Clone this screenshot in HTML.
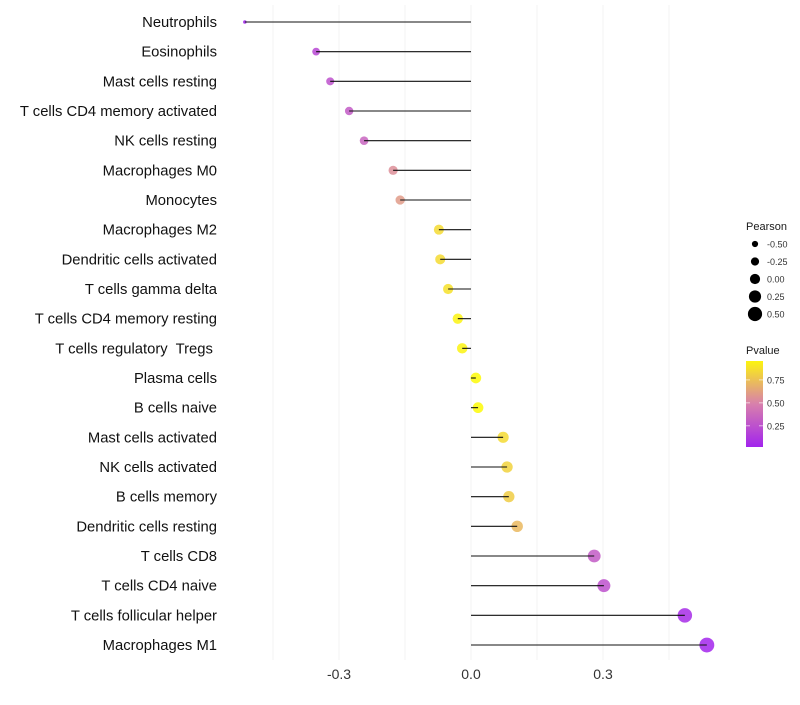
<!DOCTYPE html>
<html><head><meta charset="utf-8"><style>
body{margin:0;background:#fff;font-family:"Liberation Sans",sans-serif}
text{white-space:pre}
</style></head><body>
<svg id="chart" width="800" height="700" xmlns="http://www.w3.org/2000/svg"></svg>
<script>
const categories=["Neutrophils","Eosinophils","Mast cells resting","T cells CD4 memory activated","NK cells resting","Macrophages M0","Monocytes","Macrophages M2","Dendritic cells activated","T cells gamma delta","T cells CD4 memory resting","T cells regulatory  Tregs ","Plasma cells","B cells naive","Mast cells activated","NK cells activated","B cells memory","Dendritic cells resting","T cells CD8","T cells CD4 naive","T cells follicular helper","Macrophages M1"];
const pearson=[-0.514,-0.352,-0.320,-0.277,-0.243,-0.177,-0.161,-0.073,-0.070,-0.052,-0.030,-0.020,0.011,0.016,0.073,0.082,0.086,0.105,0.280,0.302,0.486,0.536];
const pvalue=[0.02,0.2,0.25,0.3,0.35,0.55,0.6,0.85,0.85,0.88,0.95,0.95,0.98,0.98,0.85,0.82,0.8,0.72,0.3,0.25,0.06,0.03];
const xTicks=[-0.3,0,0.3];
const xTickLabels=["-0.3","0.0","0.3"];
const xGrid=[-0.45,-0.3,-0.15,0,0.15,0.3,0.45];
const sizeLegend=[-0.5,-0.25,0,0.25,0.5];
const sizeLegendLabels=["-0.50","-0.25","0.00","0.25","0.50"];
const pTicks=[0.25,0.5,0.75];
const pTickLabels=["0.25","0.50","0.75"];

const NS="http://www.w3.org/2000/svg";
const svg=document.getElementById('chart');
const x=v=>471+v*440;
const y=i=>22+i*29.667;
const r=v=>v<-0.45?1.8:Math.max(1.8,5.3+4*v);
const rl=v=>Math.max(1.5,4.6+4*v);
function lerp(a,b,t){return a.map((c,k)=>Math.round(c+(b[k]-c)*t));}
function col(p){
  const s=[[0,[160,32,240]],[0.5,[217,130,170]],[1,[255,255,0]]];
  let t=Math.max(0,Math.min(1,p));
  let c=t<0.5?lerp(s[0][1],s[1][1],t/0.5):lerp(s[1][1],s[2][1],(t-0.5)/0.5);
  return `rgb(${c[0]},${c[1]},${c[2]})`;
}
function mk(tag,attrs,parent){const e=document.createElementNS(NS,tag);for(const k in attrs)e.setAttribute(k,attrs[k]);(parent||svg).appendChild(e);return e;}

xGrid.forEach(v=>{
  const g=mk('line',{x1:x(v),x2:x(v),y1:5,y2:660,stroke:'#f3f3f3','stroke-width':1});
  
  
});
xTicks.forEach((v,i)=>{
  const t=mk('text',{x:x(v),y:679,'text-anchor':'middle','font-size':14,fill:'#333'});
  t.textContent=xTickLabels[i];
  
  
});
categories.forEach((c,i)=>{
  const t=mk('text',{x:217,y:y(i)+5,'text-anchor':'end','font-size':14.8,fill:'#111'});
  t.textContent=c;
  
  
  const p=mk('circle',{cx:x(pearson[i]),cy:y(i),r:r(pearson[i]),fill:col(pvalue[i]),'fill-opacity':0.85});
  
  
  const l=mk('line',{x1:x(0),x2:x(pearson[i]),y1:y(i),y2:y(i),stroke:'#111','stroke-width':1.1});
  
  
});
const st=mk('text',{x:746,y:230,'font-size':11,fill:'#1a1a1a'});st.textContent='Pearson';


sizeLegend.forEach((v,i)=>{
  const cy=244+i*17.5;
  const c=mk('circle',{cx:755,cy:cy,r:rl(v)+0.5,fill:'#000'});
  
  
  const t=mk('text',{x:767,y:cy+3.5,'font-size':9,fill:'#333'});t.textContent=sizeLegendLabels[i];
  
  
});
const ct=mk('text',{x:746,y:354,'font-size':11,fill:'#1a1a1a'});ct.textContent='Pvalue';


const defs=mk('defs',{});
const lg=mk('linearGradient',{id:'pg',x1:0,y1:1,x2:0,y2:0},defs);
const pTop=0.956,pBot=0.02;
for(let k=0;k<=10;k++){const p=pBot+(pTop-pBot)*k/10;mk('stop',{offset:k/10,'stop-color':col(p)},lg);}
const bar=mk('rect',{x:746,y:361,width:17,height:86,fill:'url(#pg)'});


const py=p=>447-(p-pBot)/(pTop-pBot)*86;
pTicks.forEach((p,i)=>{
  mk('line',{x1:746,x2:750,y1:py(p),y2:py(p),stroke:'#fff','stroke-width':0.6});
  mk('line',{x1:759,x2:763,y1:py(p),y2:py(p),stroke:'#fff','stroke-width':0.6});
  const t=mk('text',{x:767,y:py(p)+3.5,'font-size':9,fill:'#333'});t.textContent=pTickLabels[i];
  
  
});
</script>
</body></html>
